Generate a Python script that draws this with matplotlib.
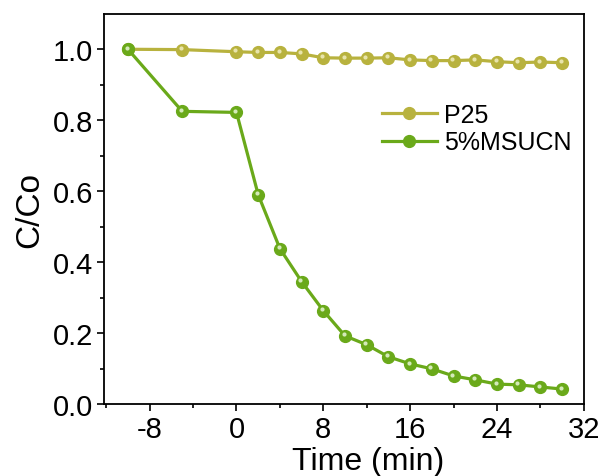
import numpy as np
import matplotlib
matplotlib.use('Agg')
import matplotlib.pyplot as plt
import matplotlib.transforms as mtransforms

plt.rcParams['font.family'] = ['Liberation Sans', 'DejaVu Sans']
plt.rcParams['axes.unicode_minus'] = False

time = [-10, -5, 0, 2, 4, 6, 8, 10, 12, 14, 16, 18, 20, 22, 24, 26, 28, 30]
p25 = [1.0, 0.999, 0.993, 0.991, 0.991, 0.987, 0.976, 0.975, 0.975, 0.976,
       0.970, 0.968, 0.968, 0.970, 0.965, 0.962, 0.964, 0.962]
msucn = [1.0, 0.825, 0.822, 0.590, 0.438, 0.345, 0.263, 0.192, 0.167, 0.133,
         0.113, 0.099, 0.079, 0.068, 0.056, 0.054, 0.048, 0.042]

series = [('P25', p25, '#b8b23e', '#eeeab8'),
          ('5%MSUCN', msucn, '#6aa91a', '#e0f2cc')]

fig = plt.figure(figsize=(6.05, 4.77), dpi=100)
ax = fig.add_axes([0.172, 0.151, 0.793, 0.818])

shift = mtransforms.ScaledTranslation(-1.0/72, 1.0/72, fig.dpi_scale_trans)
for name, vals, col, hi in series:
    ax.plot(time, vals, '-o', color=col, lw=2.3, ms=8.5, mec=col, mfc=col, label=name)
    ax.plot(time, vals, 'o', color=hi, ms=3, mec='none', alpha=0.9,
            transform=ax.transData + shift)

ax.set_xlim(-12.2, 32)
ax.set_ylim(0, 1.1)
ax.set_xticks([-8, 0, 8, 16, 24, 32])
ax.set_xticks(np.arange(-12, 33, 4), minor=True)
ax.set_yticks([0.0, 0.2, 0.4, 0.6, 0.8, 1.0])
ax.set_yticks(np.arange(0, 1.05, 0.1), minor=True)
ax.yaxis.set_major_formatter(matplotlib.ticker.FormatStrFormatter('%.1f'))
ax.tick_params(which='major', length=5, width=1.2, labelsize=21, direction='out', pad=3)
ax.tick_params(which='minor', length=3, width=1.2, direction='out')
for s in ax.spines.values():
    s.set_linewidth(1.3)

ax.set_xlabel('Time (min)', fontsize=23)
ax.xaxis.set_label_coords(0.55, -0.167)
ax.xaxis.label.set_va('baseline')
ax.set_ylabel('C/Co', fontsize=24, labelpad=5)

leg = ax.legend(loc='upper left', bbox_to_anchor=(0.579, 0.772), frameon=False,
                fontsize=18, handlelength=2.2, labelspacing=0.15, handletextpad=0.3,
                borderpad=0, borderaxespad=0)

plt.savefig('out.png')
